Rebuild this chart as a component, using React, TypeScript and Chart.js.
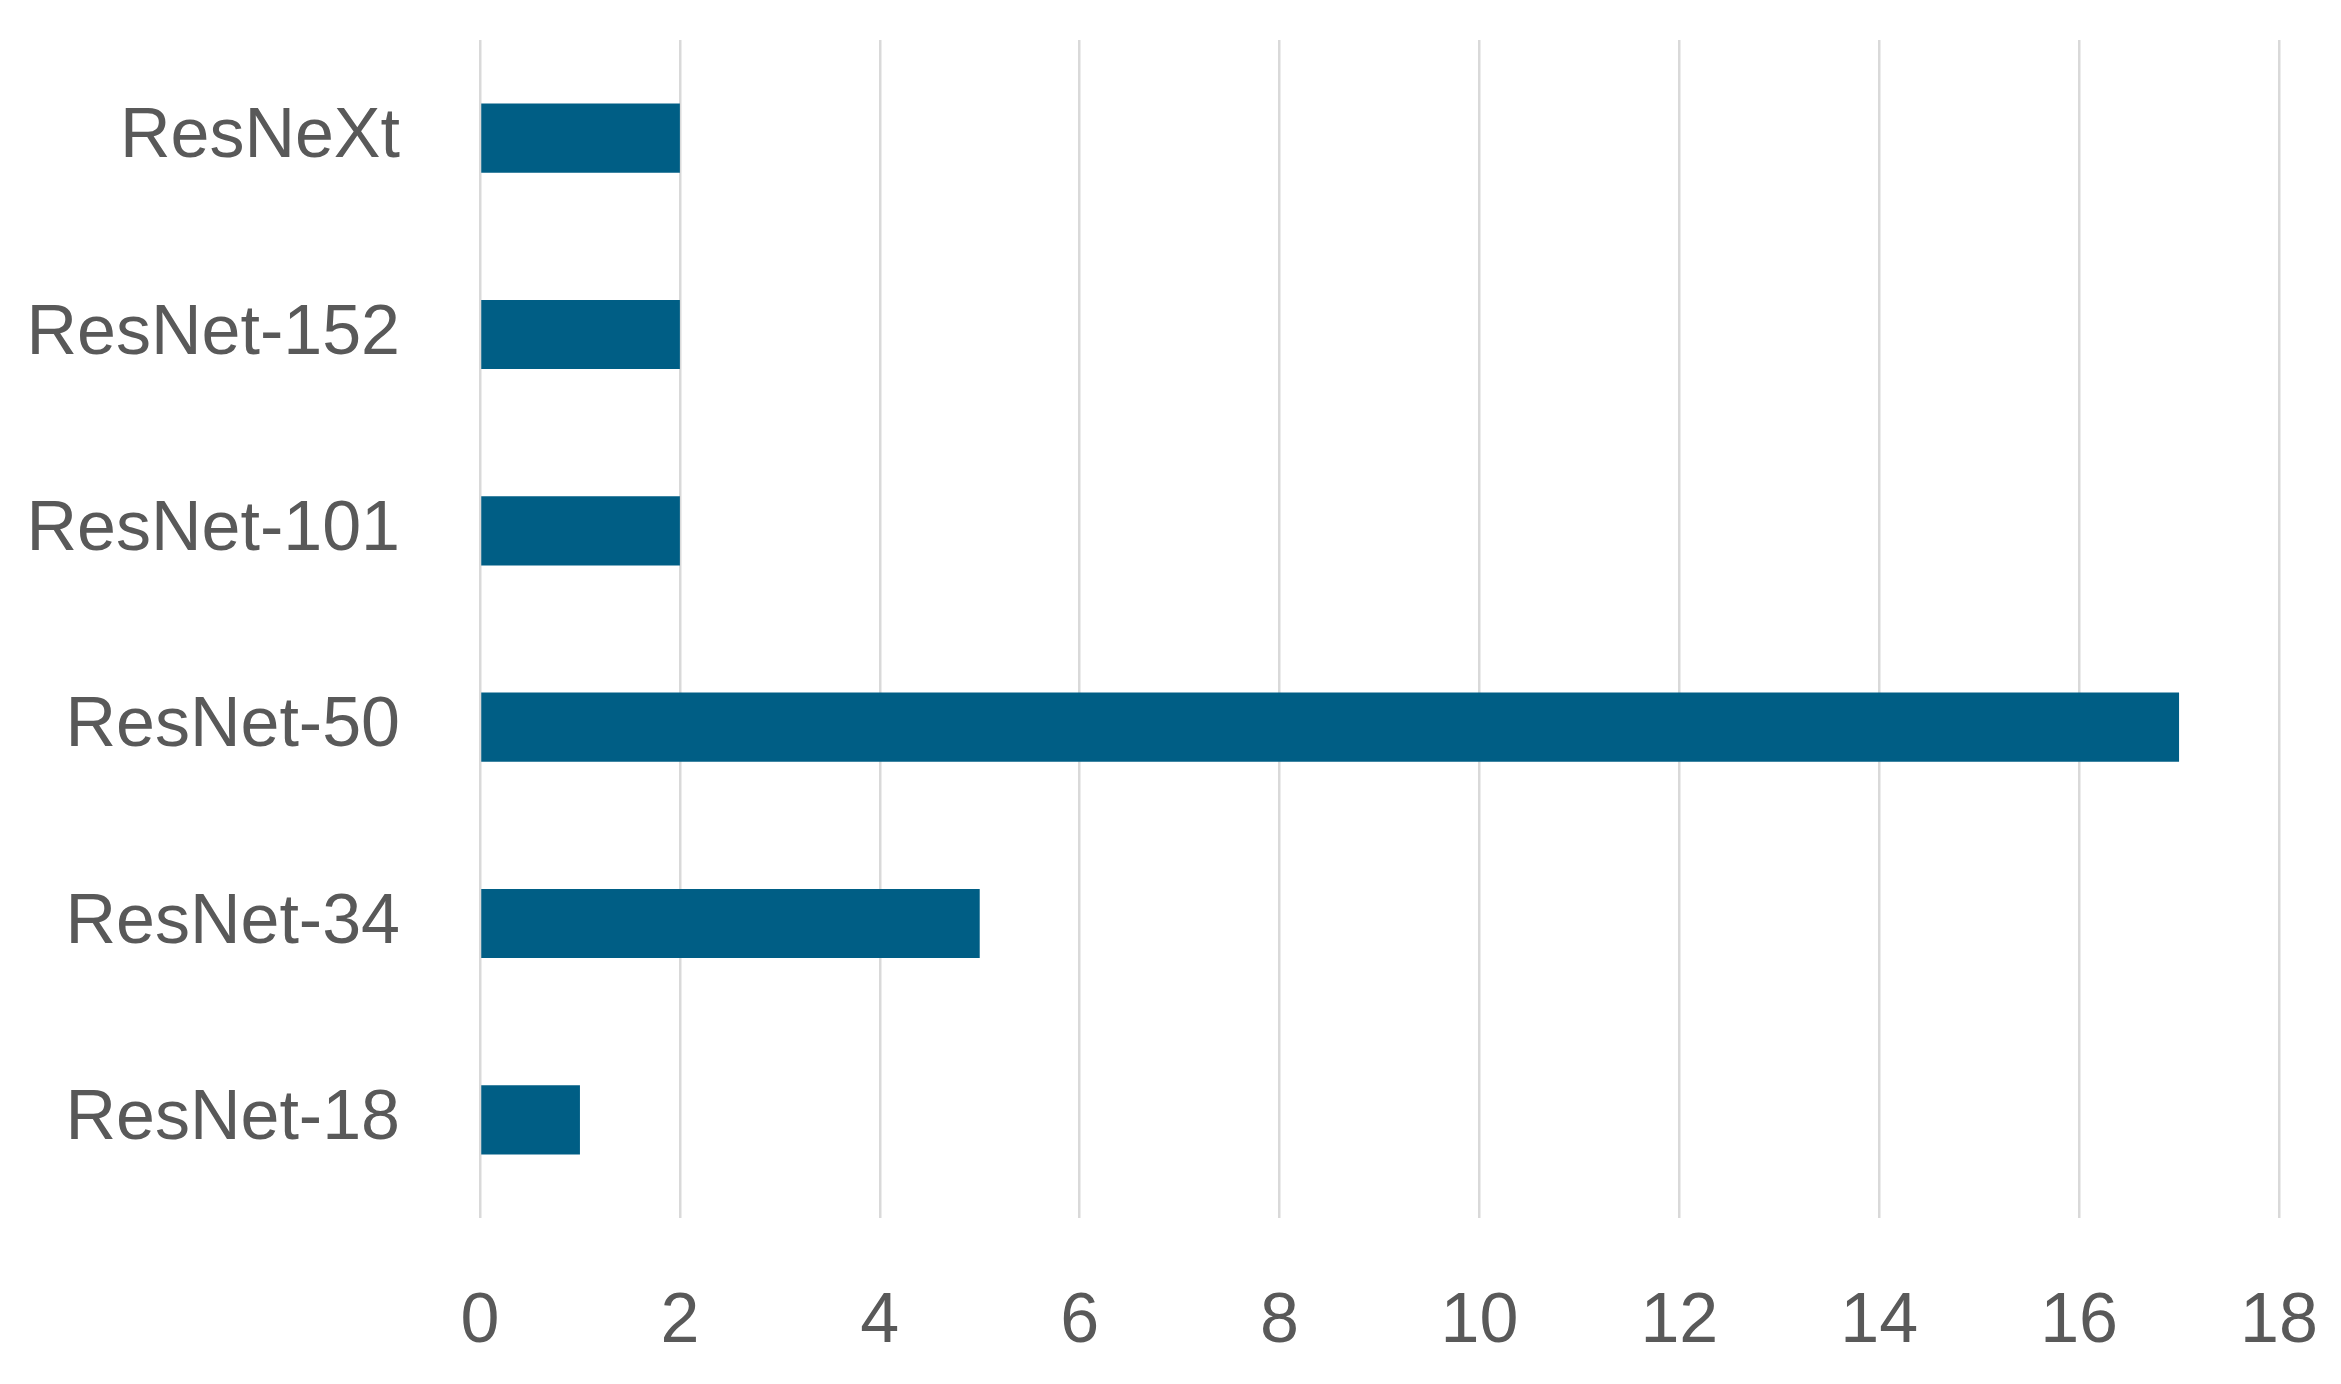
import React, { useEffect, useRef } from "react";
import { Chart, registerables } from "chart.js";

Chart.register(...registerables);

const categories = ["ResNeXt", "ResNet-152", "ResNet-101", "ResNet-50", "ResNet-34", "ResNet-18"];
const counts = [2, 2, 2, 17, 5, 1];
const xMin = 0;
const xMax = 18;
const xStep = 2;

const BAR_COLOR = "#005E85";
const TEXT_COLOR = "#595959";
const GRID_COLOR = "#D9D9D9";
const FONT = "'Liberation Sans', Arial, sans-serif";

export default function App() {
  const ref = useRef<HTMLCanvasElement | null>(null);

  useEffect(() => {
    document.body.style.margin = "0";
    const canvas = ref.current;
    if (!canvas) return;
    const chart = new Chart(canvas, {
      type: "bar",
      data: {
        labels: categories,
        datasets: [
          {
            data: counts,
            backgroundColor: BAR_COLOR,
            borderWidth: 0,
            barPercentage: 0.352,
            categoryPercentage: 1,
          },
        ],
      },
      options: {
        indexAxis: "y",
        responsive: false,
        animation: false,
        layout: { padding: { top: 40, right: 62, left: 0, bottom: 0 } },
        plugins: { legend: { display: false }, tooltip: { enabled: false }, title: { display: false } },
        scales: {
          x: {
            min: xMin,
            max: xMax,
            ticks: {
              stepSize: xStep,
              color: TEXT_COLOR,
              font: { family: FONT, size: 70, lineHeight: 1 },
              padding: 0,
              maxRotation: 0,
            },
            grid: {
              color: GRID_COLOR,
              lineWidth: 2.5,
              drawTicks: true,
              tickLength: 70,
              tickColor: "rgba(0,0,0,0)",
            },
            border: { display: false },
            afterFit: (axis: any) => {
              axis.height = 166;
            },
          },
          y: {
            ticks: {
              color: TEXT_COLOR,
              font: { family: FONT, size: 70, lineHeight: 1 },
              padding: 0,
            },
            grid: {
              display: true,
              drawOnChartArea: false,
              drawTicks: true,
              tickLength: 80,
              color: "rgba(0,0,0,0)",
              tickColor: "rgba(0,0,0,0)",
            },
            border: { display: false },
            afterFit: (axis: any) => {
              axis.width = 480;
            },
          },
        },
      },
    });
    return () => chart.destroy();
  }, []);

  return <canvas ref={ref} width={2341} height={1384} style={{ display: "block" }} />;
}
